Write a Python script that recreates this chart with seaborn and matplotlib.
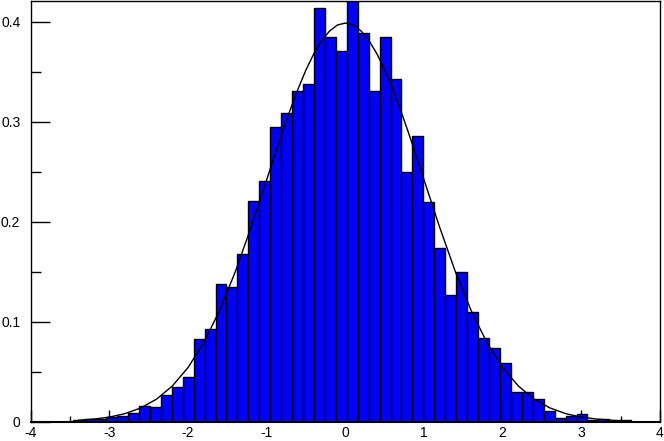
import numpy as np
import pandas as pd
import matplotlib
matplotlib.use("Agg")
import matplotlib.pyplot as plt
import seaborn as sns
from matplotlib.ticker import MultipleLocator

# histogram (density): 51 bins between x_min and x_max
x_min = -3.458
x_max = 3.634
heights = [0.0014, 0.0030, 0.0030, 0.0043, 0.0058, 0.0082, 0.0155, 0.0150,
           0.0265, 0.0350, 0.0445, 0.0826, 0.0923, 0.1380, 0.1346, 0.1680,
           0.2207, 0.2404, 0.2948, 0.3085, 0.3310, 0.3375, 0.4142, 0.3846,
           0.3710, 0.4210, 0.3890, 0.3308, 0.3846, 0.3432, 0.2497, 0.2860,
           0.2194, 0.1740, 0.1266, 0.1500, 0.1100, 0.0833, 0.0737, 0.0590,
           0.0292, 0.0292, 0.0225, 0.0108, 0.0032, 0.0052, 0.0072, 0.0014,
           0.0030, 0.0000, 0.0014]

# normal curve overlay
curve_x = [-3.4, -3.2, -3.0, -2.8, -2.6, -2.4, -2.2, -2.0, -1.8, -1.6, -1.4,
           -1.2, -1.0, -0.9, -0.8, -0.7, -0.6, -0.5, -0.4, -0.3, -0.2, -0.1,
           0.0, 0.1, 0.2, 0.3, 0.4, 0.5, 0.6, 0.7, 0.8, 0.9, 1.0,
           1.2, 1.4, 1.6, 1.8, 2.0, 2.2, 2.4, 2.6, 2.8, 3.0, 3.2, 3.4, 3.6]
curve_y = [0.0012, 0.0024, 0.0044, 0.0079, 0.0136, 0.0224, 0.0355, 0.0540,
           0.0790, 0.1109, 0.1497, 0.1942, 0.2420, 0.2661, 0.2897, 0.3123,
           0.3332, 0.3521, 0.3683, 0.3814, 0.3910, 0.3970, 0.3989, 0.3970,
           0.3910, 0.3814, 0.3683, 0.3521, 0.3332, 0.3123, 0.2897, 0.2661,
           0.2420, 0.1942, 0.1497, 0.1109, 0.0790, 0.0540, 0.0355, 0.0224,
           0.0136, 0.0079, 0.0044, 0.0024, 0.0012, 0.0006]

x_ticks = [-4, -3, -2, -1, 0, 1, 2, 3, 4]
y_ticks = [0, 0.1, 0.2, 0.3, 0.4]
y_labels = ["0", "0.1", "0.2", "0.3", "0.4"]

sns.set_style("ticks")
plt.rcParams['font.family'] = ['Liberation Sans', 'DejaVu Sans']
plt.rcParams['axes.unicode_minus'] = False

edges = np.linspace(x_min, x_max, len(heights) + 1)
hist_df = pd.DataFrame({
    "x": (edges[:-1] + edges[1:]) / 2,
    "density": heights,
})

fig = plt.figure(figsize=(6.64, 4.41), dpi=100)
ax = fig.add_axes([30.7 / 664, 1 - 421.5 / 441, (660 - 30.7) / 664, (421.5 - 1) / 441])

sns.histplot(data=hist_df, x="x", weights="density", bins=list(edges),
             color="#0000ff", edgecolor="black", linewidth=1, alpha=1, ax=ax)
sns.lineplot(x=curve_x, y=curve_y, color="black", linewidth=1, ax=ax)

ax.set_xlim(-4, 4)
ax.set_ylim(0, 0.421)
ax.set_xticks(x_ticks)
ax.set_xticklabels([str(t) for t in x_ticks])
ax.set_yticks(y_ticks)
ax.set_yticklabels(y_labels)
ax.xaxis.set_minor_locator(MultipleLocator(0.5))
ax.yaxis.set_minor_locator(MultipleLocator(0.05))
ax.set_xlabel("")
ax.set_ylabel("")

ax.tick_params(axis="x", which="major", direction="in", length=9, width=1,
               labelsize=10, pad=3.5, colors="black", labelcolor="black")
ax.tick_params(axis="x", which="minor", direction="in", length=4.5, width=1,
               colors="black")
ax.tick_params(axis="y", which="major", direction="in", length=14, width=1,
               labelsize=10, pad=7.5, colors="black", labelcolor="black")
ax.tick_params(axis="y", which="minor", direction="in", length=7, width=1,
               colors="black")
for s in ax.spines.values():
    s.set_visible(True)
    s.set_linewidth(1)
    s.set_color("black")
ax.spines["bottom"].set_linewidth(1.5)

fig.savefig("out.png", dpi=100)
